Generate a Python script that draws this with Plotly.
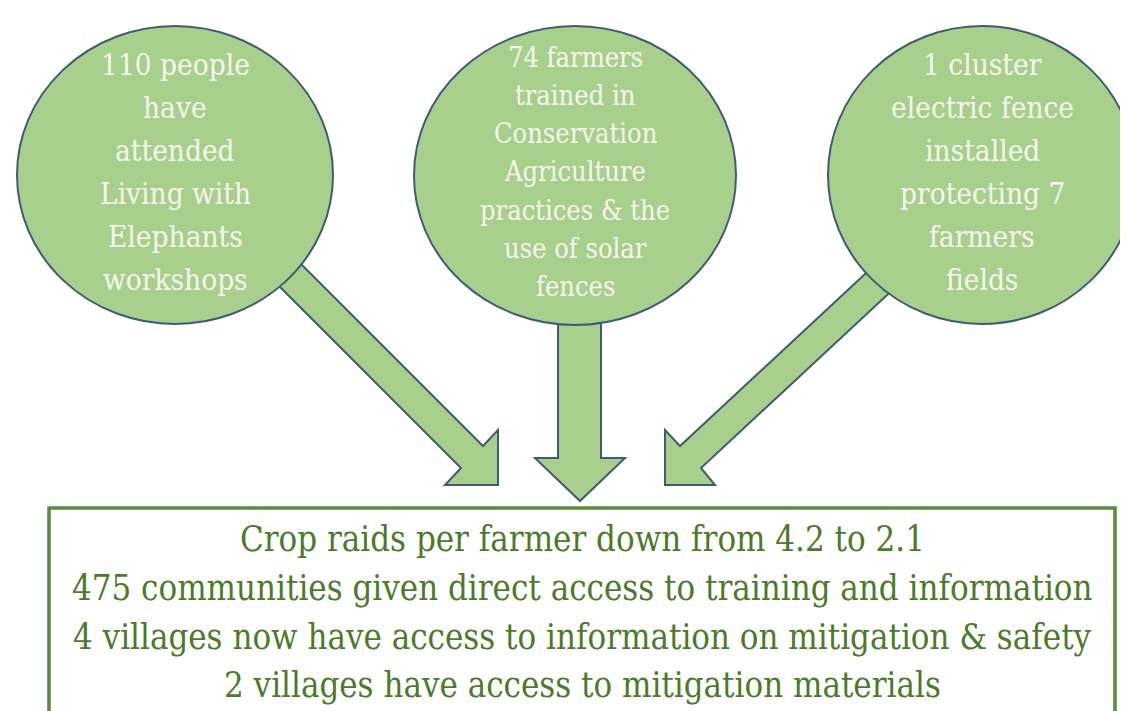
import plotly.graph_objects as go

# ---- content ----
circle_texts = [
    ["110 people", "have", "attended", "Living with", "Elephants", "workshops"],
    ["74 farmers", "trained in", "Conservation", "Agriculture", "practices & the", "use of solar", "fences"],
    ["1 cluster", "electric fence", "installed", "protecting 7", "farmers", "fields"],
]
box_lines = [
    "Crop raids per farmer down from 4.2 to 2.1",
    "475 communities given direct access to training and information",
    "4 villages now have access to information on mitigation & safety",
    "2 villages have access to mitigation materials",
]

# ---- layout (pixel geometry) ----
W, H = 1128, 711
circles = [(9, 18, 325, 316), (406, 18, 728, 317), (820, 18, 1128, 316)]  # x0, y0, x1, y1
circle_text_layout = [(57, 43.0, 29.5), (49, 38.3, 27), (57, 43.0, 29.5)]  # first y, spacing, size
arrows = [
    [(225, 188), (475, 438), (490, 422), (490, 477), (437, 477), (453, 460), (203, 210)],
    [(550, 200), (550, 450), (527, 450), (572, 493), (617, 450), (593, 450), (593, 200)],
    [(914, 213), (672, 438), (657, 422), (657, 477), (707, 477), (693, 460), (935, 235)],
]
box = (41, 500, 1107, 730)
box_text_y0, box_text_dy, box_font = 531, 48.8, 34.5

circle_fill = "#a8d08c"
circle_line = "#3f5c74"
box_line = "#5b8a3c"
box_text_color = "#4c7a2b"
circle_text_color = "#f6f7ee"
serif = "DejaVu Serif Condensed, DejaVu Serif, serif"

fig = go.Figure()
fig.add_trace(go.Scatter(x=[0, W], y=[0, H], mode="markers",
                         marker=dict(opacity=0), hoverinfo="skip", showlegend=False))
shapes = []


def path_from(points):
    return "M " + " L ".join(f"{x},{y}" for x, y in points) + " Z"


for pts in arrows:
    shapes.append(dict(type="path", path=path_from(pts), xref="x", yref="y",
                       fillcolor=circle_fill, line=dict(color=circle_line, width=2), layer="above"))
for (x0, y0, x1, y1) in circles:
    shapes.append(dict(type="circle", x0=x0, y0=y0, x1=x1, y1=y1, xref="x", yref="y",
                       fillcolor=circle_fill, line=dict(color=circle_line, width=2), layer="above"))
shapes.append(dict(type="rect", x0=box[0], y0=box[1], x1=box[2], y1=box[3], xref="x", yref="y",
                   fillcolor="rgba(0,0,0,0)", line=dict(color=box_line, width=3.5), layer="above"))

annotations = []
for (x0, y0, x1, y1), lines, (ty, dy, fs) in zip(circles, circle_texts, circle_text_layout):
    cx = (x0 + x1) / 2
    for i, line in enumerate(lines):
        annotations.append(dict(x=cx, y=ty + i * dy, text=line, showarrow=False,
                                xref="x", yref="y", xanchor="center", yanchor="middle",
                                font=dict(family=serif, size=fs, color=circle_text_color)))
bx = (box[0] + box[2]) / 2
for i, line in enumerate(box_lines):
    annotations.append(dict(x=bx, y=box_text_y0 + i * box_text_dy, text=line, showarrow=False,
                            xref="x", yref="y", xanchor="center", yanchor="middle",
                            font=dict(family=serif, size=box_font, color=box_text_color)))

fig.update_layout(
    width=W, height=H, margin=dict(l=0, r=0, t=0, b=0),
    paper_bgcolor="white", plot_bgcolor="white",
    xaxis=dict(range=[0, W], visible=False, fixedrange=True),
    yaxis=dict(range=[H, 0], visible=False, fixedrange=True),
    shapes=shapes, annotations=annotations, showlegend=False,
)
fig.write_html("out.html", config={"displayModeBar": False})
